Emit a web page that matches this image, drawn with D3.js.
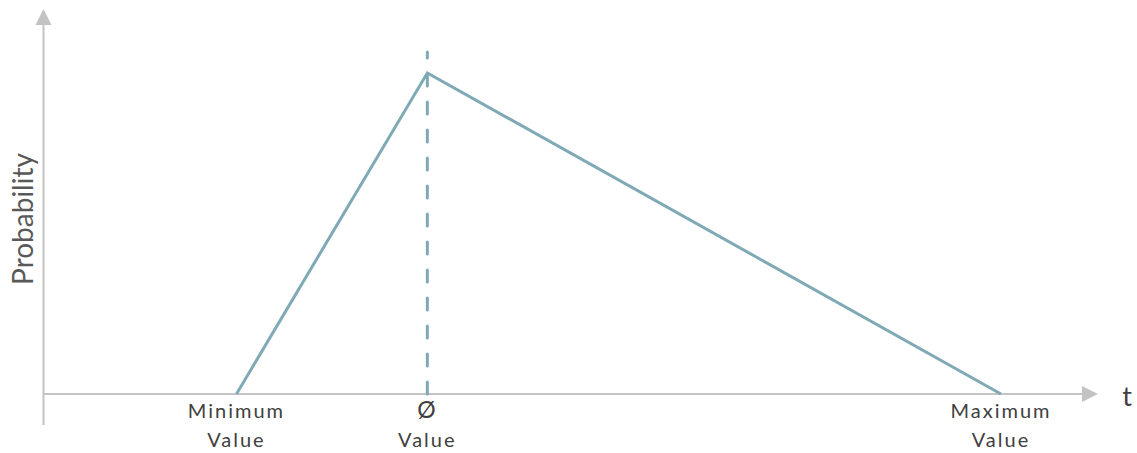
<!DOCTYPE html>
<html>
<head>
<meta charset="utf-8">
<script src="https://cdn.jsdelivr.net/npm/d3@7"></script>
<style>
  body { margin: 0; background: #fff; }
  text { font-family: Lato, "Open Sans", sans-serif; fill: #404040; }
</style>
</head>
<body>
<div id="main"></div>
<script>
const ctx = {
    w: 1137,
    h: 453,
    axisColor: "#c3c3c3",
    lineColor: "#7faab5"
};

// triangular distribution, t in arbitrary units 0..100, probability 0..1
const tPoints = [18.3, 36.4, 90.8];
const pPoints = [0, 0.834, 0];
const modeLineTop = 0.888;
const tickValues = [18.3, 36.4, 90.8];
const tickLabels = [["Minimum", "Value"], ["Ø", "Value"], ["Maximum", "Value"]];

const x = d3.scaleLinear().domain([0, 100]).range([43.5, 1098]);
const y = d3.scaleLinear().domain([0, 1]).range([394, 9]);

function createViz(){
    let svgEl = d3.select("#main").append("svg")
        .attr("width", ctx.w)
        .attr("height", ctx.h);

    // axes
    let axes = svgEl.append("g").attr("id", "axes");
    axes.append("line")
        .attr("x1", x(0)).attr("x2", x(0))
        .attr("y1", 425).attr("y2", y(1) + 14)
        .attr("stroke", ctx.axisColor).attr("stroke-width", 2);
    axes.append("path")
        .attr("d", `M${x(0)},${y(1)} L${x(0) - 8},${y(1) + 16} L${x(0) + 8},${y(1) + 16} Z`)
        .attr("fill", ctx.axisColor);
    axes.append("line")
        .attr("x1", x(0)).attr("x2", x(100) - 14)
        .attr("y1", y(0)).attr("y2", y(0))
        .attr("stroke", ctx.axisColor).attr("stroke-width", 2);
    axes.append("path")
        .attr("d", `M${x(100)},${y(0)} L${x(100) - 16},${y(0) - 8} L${x(100) - 16},${y(0) + 8} Z`)
        .attr("fill", ctx.axisColor);

    // dashed mode line
    svgEl.append("line")
        .attr("x1", x(tPoints[1])).attr("x2", x(tPoints[1]))
        .attr("y1", y(0)).attr("y2", y(modeLineTop))
        .attr("stroke", ctx.lineColor)
        .attr("stroke-width", 3)
        .attr("stroke-linecap", "round")
        .attr("stroke-dasharray", "12,16");

    // triangle
    let pts = tPoints.map((t, i) => [t, pPoints[i]]);
    svgEl.append("path")
        .datum(pts)
        .attr("d", d3.line().x(d => x(d[0])).y(d => y(d[1])))
        .attr("fill", "none")
        .attr("stroke", ctx.lineColor)
        .attr("stroke-width", 3)
        .attr("stroke-linejoin", "miter");

    // tick labels
    let ticks = svgEl.append("g").attr("id", "ticks");
    tickValues.forEach((v, i) => {
        let tx = ticks.append("text")
            .attr("x", x(v))
            .attr("text-anchor", "middle")
            .style("font-size", "20px")
            .style("letter-spacing", "2px");
        tx.append("tspan").attr("x", x(v)).attr("y", 418)
          .style("font-size", i == 1 ? "23px" : "20px")
          .text(tickLabels[i][0]);
        tx.append("tspan").attr("x", x(v)).attr("y", 447).text(tickLabels[i][1]);
    });

    // axis titles
    svgEl.append("text")
        .attr("x", 1127).attr("y", 406)
        .attr("text-anchor", "middle")
        .style("font-size", "27px")
        .text("t");
    svgEl.append("text")
        .attr("transform", "translate(33,219) rotate(-90)")
        .attr("text-anchor", "middle")
        .style("font-size", "28px")
        .style("fill", "#595959")
        .text("Probability");
}

createViz();
</script>
</body>
</html>
